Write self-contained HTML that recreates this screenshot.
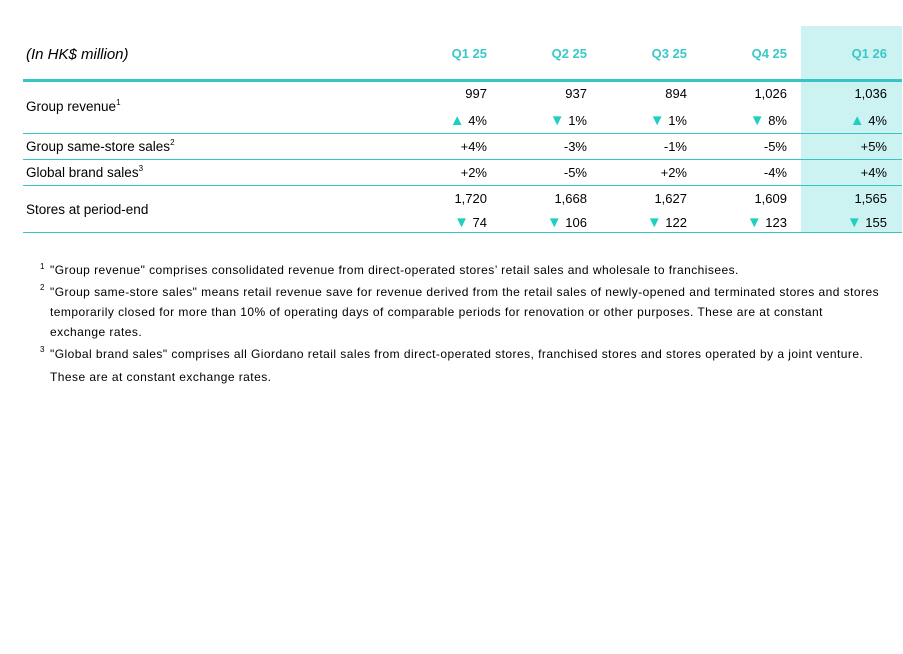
<!DOCTYPE html>
<html><head><meta charset="utf-8"><style>
body{margin:0;width:903px;height:654px;background:#fff;position:relative;overflow:hidden;font-family:"Liberation Sans",Arial,sans-serif;color:#000}
.a{position:absolute;white-space:nowrap}
.hl{position:absolute;left:801px;top:26px;width:101px;height:206px;background:#ccf2f1}
.line{position:absolute;left:23px;width:879px;background:#36c4c4}
.h{font-weight:bold;color:#3cc8c8;font-size:13px;top:46px;text-align:right;width:80px}
.v{font-size:13px;text-align:right;width:90px}
.lab{font-size:13.5px;left:26px}
sup{font-size:8px;vertical-align:6px;line-height:0}
.tri{color:#1fcfc1;font-size:15px;line-height:0}
.fn{font-size:12px;left:50px;letter-spacing:0.45px}
.fs{font-size:8px;left:40px}
</style></head><body>
<div class="hl"></div>
<div class="line" style="top:79px;height:3px"></div>
<div class="line" style="top:133px;height:1px"></div>
<div class="line" style="top:159px;height:1px"></div>
<div class="line" style="top:185px;height:1px"></div>
<div class="line" style="top:232px;height:1px"></div>
<div class="a" style="left:26px;top:46px;font-size:15px;font-style:italic">(In HK$ million)</div>
<div class="a h" style="left:407px">Q1 25</div>
<div class="a h" style="left:507px">Q2 25</div>
<div class="a h" style="left:607px">Q3 25</div>
<div class="a h" style="left:707px">Q4 25</div>
<div class="a h" style="left:807px">Q1 26</div>

<div class="a lab" style="top:99px">Group revenue<sup>1</sup></div>
<div class="a lab" style="top:139px">Group same-store sales<sup>2</sup></div>
<div class="a lab" style="top:165px">Global brand sales<sup>3</sup></div>
<div class="a lab" style="top:202px">Stores at period-end</div>

<div class="a v" style="left:397px;top:86px">997</div>
<div class="a v" style="left:497px;top:86px">937</div>
<div class="a v" style="left:597px;top:86px">894</div>
<div class="a v" style="left:697px;top:86px">1,026</div>
<div class="a v" style="left:797px;top:86px">1,036</div>

<div class="a v" style="left:397px;top:113px"><span class="tri">▲</span> 4%</div>
<div class="a v" style="left:497px;top:113px"><span class="tri">▼</span> 1%</div>
<div class="a v" style="left:597px;top:113px"><span class="tri">▼</span> 1%</div>
<div class="a v" style="left:697px;top:113px"><span class="tri">▼</span> 8%</div>
<div class="a v" style="left:797px;top:113px"><span class="tri">▲</span> 4%</div>

<div class="a v" style="left:397px;top:139px">+4%</div>
<div class="a v" style="left:497px;top:139px">-3%</div>
<div class="a v" style="left:597px;top:139px">-1%</div>
<div class="a v" style="left:697px;top:139px">-5%</div>
<div class="a v" style="left:797px;top:139px">+5%</div>

<div class="a v" style="left:397px;top:165px">+2%</div>
<div class="a v" style="left:497px;top:165px">-5%</div>
<div class="a v" style="left:597px;top:165px">+2%</div>
<div class="a v" style="left:697px;top:165px">-4%</div>
<div class="a v" style="left:797px;top:165px">+4%</div>

<div class="a v" style="left:397px;top:191px">1,720</div>
<div class="a v" style="left:497px;top:191px">1,668</div>
<div class="a v" style="left:597px;top:191px">1,627</div>
<div class="a v" style="left:697px;top:191px">1,609</div>
<div class="a v" style="left:797px;top:191px">1,565</div>

<div class="a v" style="left:397px;top:215px"><span class="tri">▼</span> 74</div>
<div class="a v" style="left:497px;top:215px"><span class="tri">▼</span> 106</div>
<div class="a v" style="left:597px;top:215px"><span class="tri">▼</span> 122</div>
<div class="a v" style="left:697px;top:215px"><span class="tri">▼</span> 123</div>
<div class="a v" style="left:797px;top:215px"><span class="tri">▼</span> 155</div>

<div class="a fs" style="top:262px">1</div>
<div class="a fn" style="top:263px">"Group revenue" comprises consolidated revenue from direct-operated stores’ retail sales and wholesale to franchisees.</div>
<div class="a fs" style="top:283px">2</div>
<div class="a fn" style="top:285px">"Group same-store sales" means retail revenue save for revenue derived from the retail sales of newly-opened and terminated stores and stores</div>
<div class="a fn" style="top:305px">temporarily closed for more than 10% of operating days of comparable periods for renovation or other purposes. These are at constant</div>
<div class="a fn" style="top:325px">exchange rates.</div>
<div class="a fs" style="top:345px">3</div>
<div class="a fn" style="top:347px">"Global brand sales" comprises all Giordano retail sales from direct-operated stores, franchised stores and stores operated by a joint venture.</div>
<div class="a fn" style="top:370px">These are at constant exchange rates.</div>
</body></html>
